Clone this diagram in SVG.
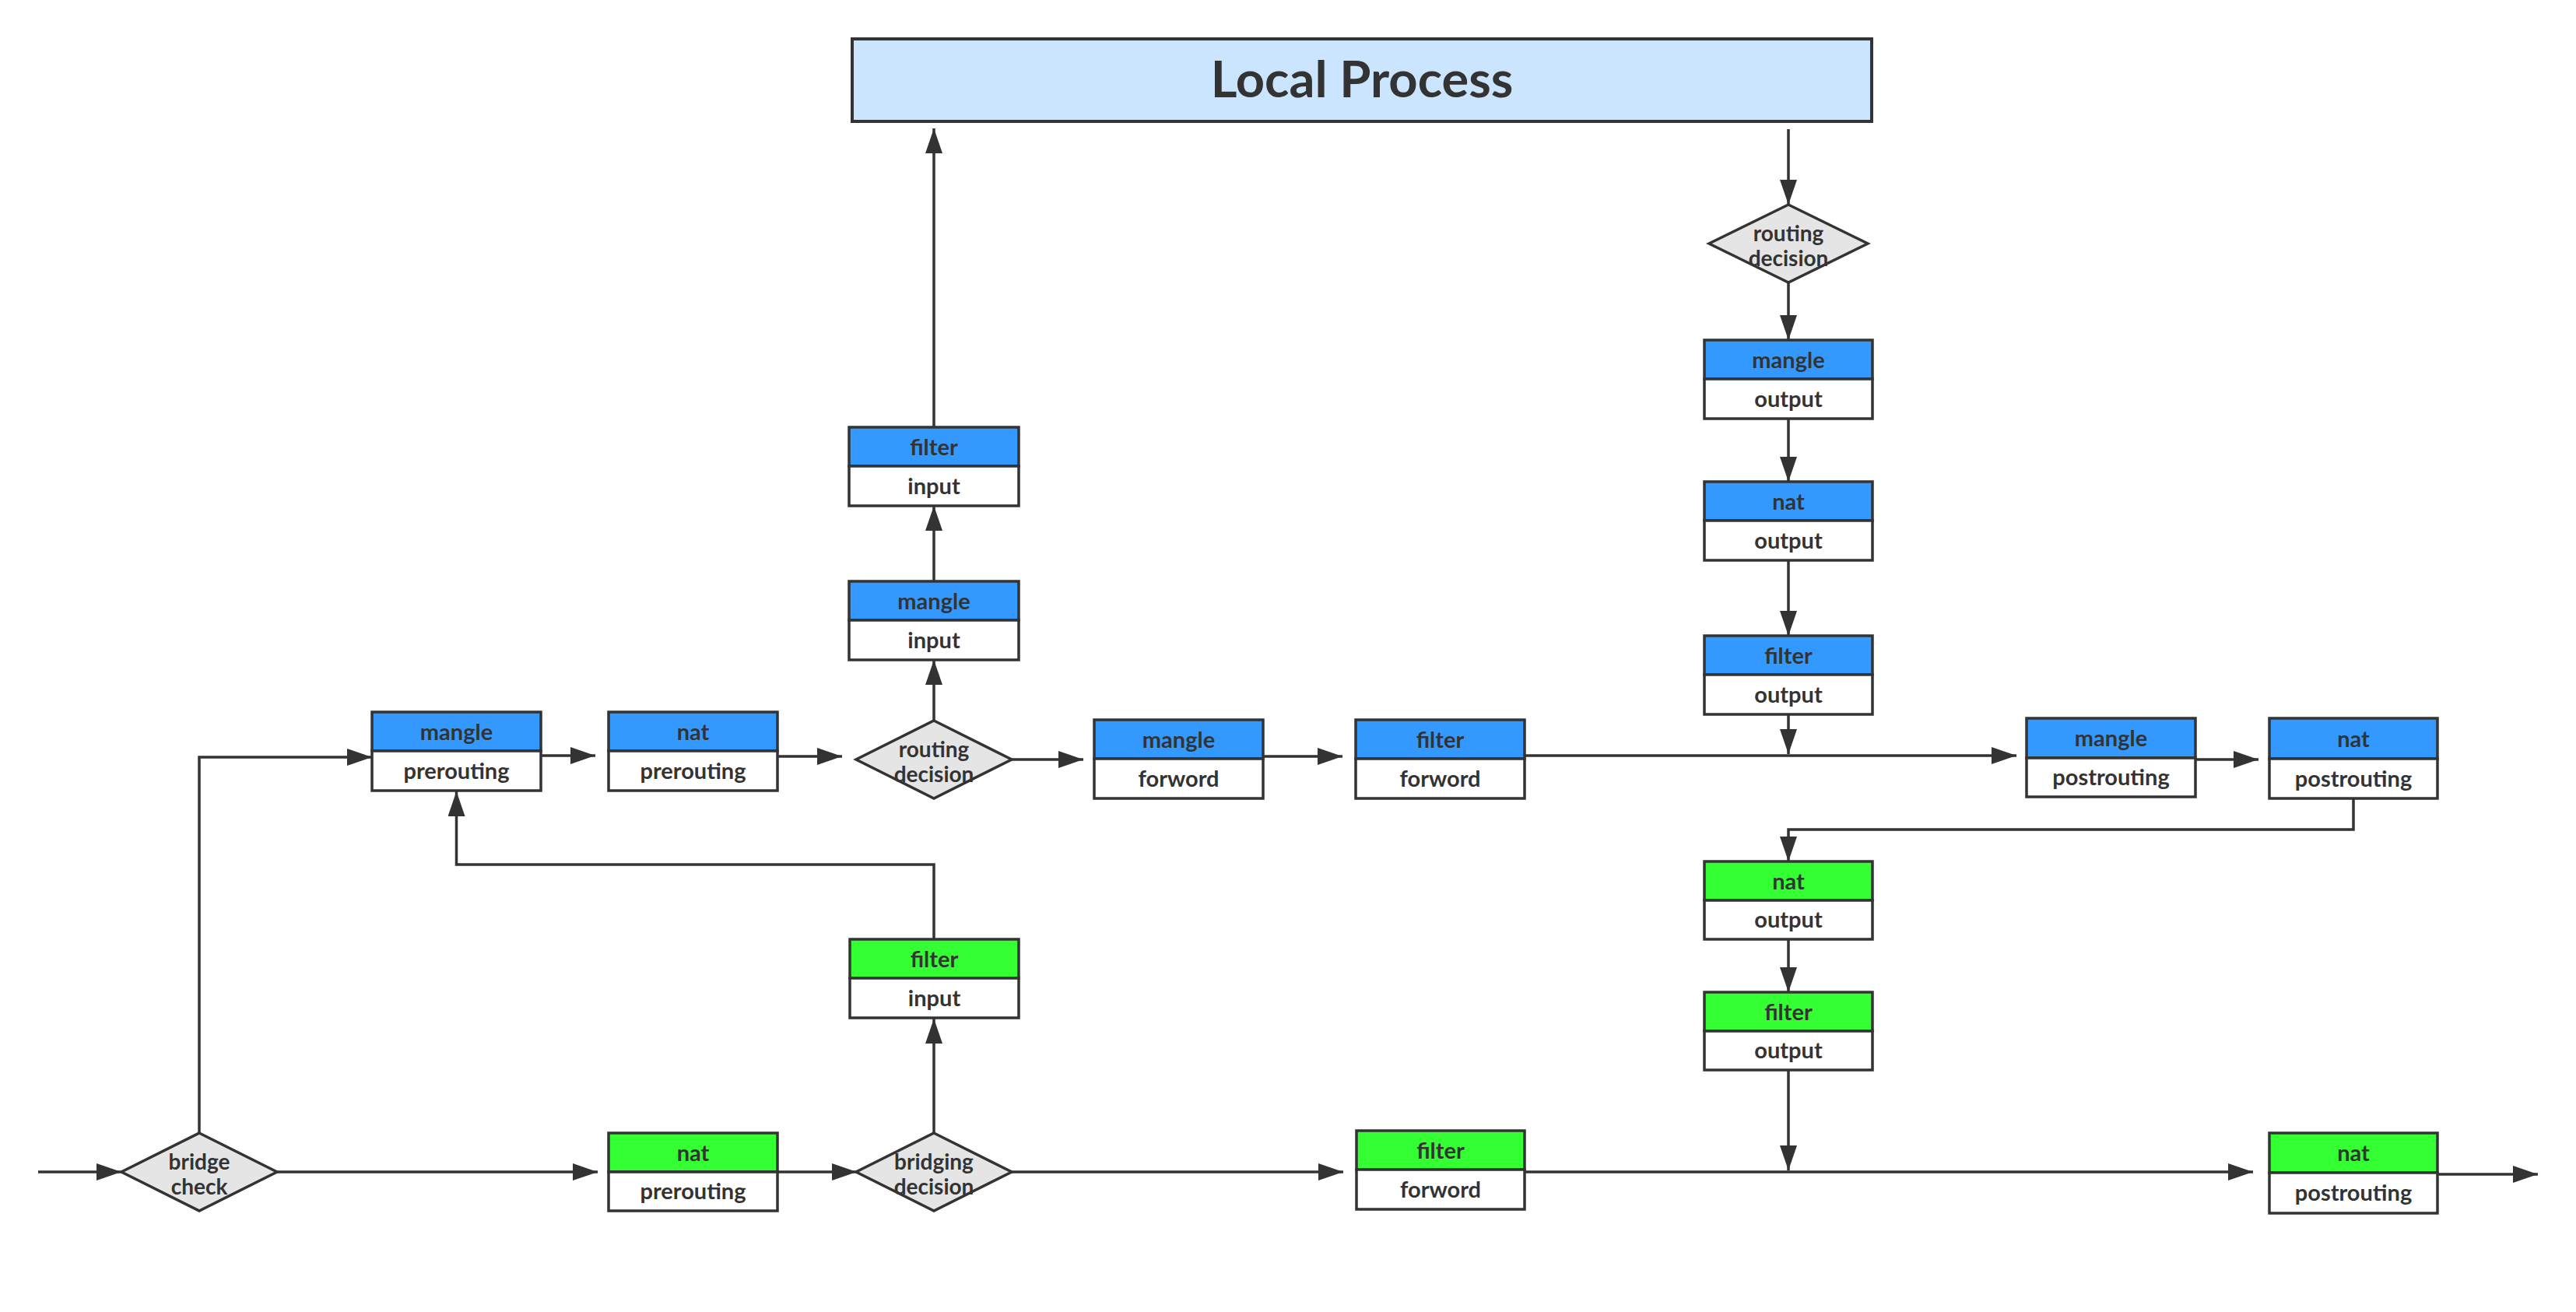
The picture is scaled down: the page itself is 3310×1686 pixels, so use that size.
<svg xmlns="http://www.w3.org/2000/svg" width="3310" height="1686" viewBox="0 0 3310 1686">
<style>
.hb{fill:#3399ff;stroke:#333;stroke-width:3.5}
.hg{fill:#33ff33;stroke:#333;stroke-width:3.5}
.bd{fill:#fff;stroke:#333;stroke-width:3.5}
.dm{fill:#e5e5e5;stroke:#333;stroke-width:3.5}
.t{font-family:Lato,"Liberation Sans",sans-serif;font-weight:bold;font-size:29px;fill:#333;text-anchor:middle}
.dt{font-family:Lato,"Liberation Sans",sans-serif;font-weight:bold;font-size:28px;fill:#333;text-anchor:middle}
.c{fill:none;stroke:#333;stroke-width:3.5}
</style>
<defs>
<marker id="ah" markerUnits="userSpaceOnUse" markerWidth="32" markerHeight="22" refX="32" refY="11" orient="auto"><path d="M0,0 L32,11 L0,22 z" fill="#333"/></marker>
</defs>
<rect width="3310" height="1686" fill="#fff"/>
<g id="local-process">
<rect x="1095" y="50" width="1310" height="106" fill="#cce5ff" stroke="#333" stroke-width="4"/>
<text x="1750" y="125" style="font-family:Lato,'Liberation Sans',sans-serif;font-weight:bold;font-size:65px;fill:#333;text-anchor:middle">Local Process</text>
</g>
<g id="connectors">
<path class="c" d="M49,1506 H156" marker-end="url(#ah)"/>
<path class="c" d="M356,1506 H768" marker-end="url(#ah)"/>
<path class="c" d="M256,1456 V973 H478" marker-end="url(#ah)"/>
<path class="c" d="M999,1506 H1101" marker-end="url(#ah)"/>
<path class="c" d="M1200,1456 V1309" marker-end="url(#ah)"/>
<path class="c" d="M1200,1207 V1111 H586.5 V1017" marker-end="url(#ah)"/>
<path class="c" d="M1300,1506 H1726" marker-end="url(#ah)"/>
<path class="c" d="M1959,1506 H2895" marker-end="url(#ah)"/>
<path class="c" d="M2298,1207 V1275" marker-end="url(#ah)"/>
<path class="c" d="M2298,1375 V1504" marker-end="url(#ah)"/>
<path class="c" d="M3133,1509 H3261" marker-end="url(#ah)"/>
<path class="c" d="M695,971 H765" marker-end="url(#ah)"/>
<path class="c" d="M999,972 H1082" marker-end="url(#ah)"/>
<path class="c" d="M1200,926 V848" marker-end="url(#ah)"/>
<path class="c" d="M1200,747 V650" marker-end="url(#ah)"/>
<path class="c" d="M1200,549 V165" marker-end="url(#ah)"/>
<path class="c" d="M1300,976 H1392" marker-end="url(#ah)"/>
<path class="c" d="M1623,972 H1725" marker-end="url(#ah)"/>
<path class="c" d="M1959,971 H2591" marker-end="url(#ah)"/>
<path class="c" d="M2298,166 V263" marker-end="url(#ah)"/>
<path class="c" d="M2298,363 V437" marker-end="url(#ah)"/>
<path class="c" d="M2298,538 V619" marker-end="url(#ah)"/>
<path class="c" d="M2298,720 V817" marker-end="url(#ah)"/>
<path class="c" d="M2298,918 V969" marker-end="url(#ah)"/>
<path class="c" d="M2821,976 H2902" marker-end="url(#ah)"/>
<path class="c" d="M3024,1025 V1066 H2298 V1107" marker-end="url(#ah)"/>
</g>
<g id="bridge-check"><polygon class="dm" points="256,1456 356,1506 256,1556 156,1506"/><text class="dt" x="256" y="1503">bridge</text><text class="dt" x="256" y="1535">check</text></g>
<g id="routing-decision-1"><polygon class="dm" points="1200,926 1300,976 1200,1026 1100,976"/><text class="dt" x="1200" y="973">routing</text><text class="dt" x="1200" y="1005">decision</text></g>
<g id="bridging-decision"><polygon class="dm" points="1200,1456 1300,1506 1200,1556 1100,1506"/><text class="dt" x="1200" y="1503">bridging</text><text class="dt" x="1200" y="1535">decision</text></g>
<g id="routing-decision-2"><polygon class="dm" points="2298,263 2400,313 2298,363 2196,313"/><text class="dt" x="2298" y="310">routing</text><text class="dt" x="2298" y="342">decision</text></g>
<g id="mangle-prerouting"><rect class="hb" x="478" y="915" width="217" height="50"/><rect class="bd" x="478" y="965" width="217" height="51"/><text class="t" x="586.5" y="951">mangle</text><text class="t" x="586.5" y="1001">prerouting</text></g>
<g id="nat-prerouting"><rect class="hb" x="782" y="915" width="217" height="50"/><rect class="bd" x="782" y="965" width="217" height="51"/><text class="t" x="890.5" y="951">nat</text><text class="t" x="890.5" y="1001">prerouting</text></g>
<g id="mangle-input"><rect class="hb" x="1091" y="747" width="218" height="50"/><rect class="bd" x="1091" y="797" width="218" height="51"/><text class="t" x="1200" y="783">mangle</text><text class="t" x="1200" y="833">input</text></g>
<g id="filter-input"><rect class="hb" x="1091" y="549" width="218" height="50"/><rect class="bd" x="1091" y="599" width="218" height="51"/><text class="t" x="1200" y="585">filter</text><text class="t" x="1200" y="635">input</text></g>
<g id="mangle-forword"><rect class="hb" x="1406" y="925" width="217" height="50"/><rect class="bd" x="1406" y="975" width="217" height="51"/><text class="t" x="1514.5" y="961">mangle</text><text class="t" x="1514.5" y="1011">forword</text></g>
<g id="filter-forword"><rect class="hb" x="1742" y="925" width="217" height="50"/><rect class="bd" x="1742" y="975" width="217" height="51"/><text class="t" x="1850.5" y="961">filter</text><text class="t" x="1850.5" y="1011">forword</text></g>
<g id="mangle-output"><rect class="hb" x="2190" y="437" width="216" height="50"/><rect class="bd" x="2190" y="487" width="216" height="51"/><text class="t" x="2298" y="473">mangle</text><text class="t" x="2298" y="523">output</text></g>
<g id="nat-output"><rect class="hb" x="2190" y="619" width="216" height="50"/><rect class="bd" x="2190" y="669" width="216" height="51"/><text class="t" x="2298" y="655">nat</text><text class="t" x="2298" y="705">output</text></g>
<g id="filter-output"><rect class="hb" x="2190" y="817" width="216" height="50"/><rect class="bd" x="2190" y="867" width="216" height="51"/><text class="t" x="2298" y="853">filter</text><text class="t" x="2298" y="903">output</text></g>
<g id="mangle-postrouting"><rect class="hb" x="2604" y="923" width="217" height="51"/><rect class="bd" x="2604" y="974" width="217" height="50"/><text class="t" x="2712.5" y="959">mangle</text><text class="t" x="2712.5" y="1009">postrouting</text></g>
<g id="nat-postrouting"><rect class="hb" x="2916" y="923" width="216" height="52"/><rect class="bd" x="2916" y="975" width="216" height="51"/><text class="t" x="3024" y="960">nat</text><text class="t" x="3024" y="1011">postrouting</text></g>
<g id="nat-output-bridge"><rect class="hg" x="2190" y="1107" width="216" height="50"/><rect class="bd" x="2190" y="1157" width="216" height="50"/><text class="t" x="2298" y="1143">nat</text><text class="t" x="2298" y="1192">output</text></g>
<g id="filter-output-bridge"><rect class="hg" x="2190" y="1275" width="216" height="50"/><rect class="bd" x="2190" y="1325" width="216" height="50"/><text class="t" x="2298" y="1311">filter</text><text class="t" x="2298" y="1360">output</text></g>
<g id="filter-input-bridge"><rect class="hg" x="1092" y="1207" width="217" height="50"/><rect class="bd" x="1092" y="1257" width="217" height="51"/><text class="t" x="1200.5" y="1243">filter</text><text class="t" x="1200.5" y="1293">input</text></g>
<g id="nat-prerouting-bridge"><rect class="hg" x="782" y="1456" width="217" height="50"/><rect class="bd" x="782" y="1506" width="217" height="50"/><text class="t" x="890.5" y="1492">nat</text><text class="t" x="890.5" y="1541">prerouting</text></g>
<g id="filter-forword-bridge"><rect class="hg" x="1743" y="1453" width="216" height="50"/><rect class="bd" x="1743" y="1503" width="216" height="51"/><text class="t" x="1851" y="1489">filter</text><text class="t" x="1851" y="1539">forword</text></g>
<g id="nat-postrouting-bridge"><rect class="hg" x="2916" y="1456" width="216" height="51"/><rect class="bd" x="2916" y="1507" width="216" height="52"/><text class="t" x="3024" y="1492">nat</text><text class="t" x="3024" y="1543">postrouting</text></g>
</svg>
